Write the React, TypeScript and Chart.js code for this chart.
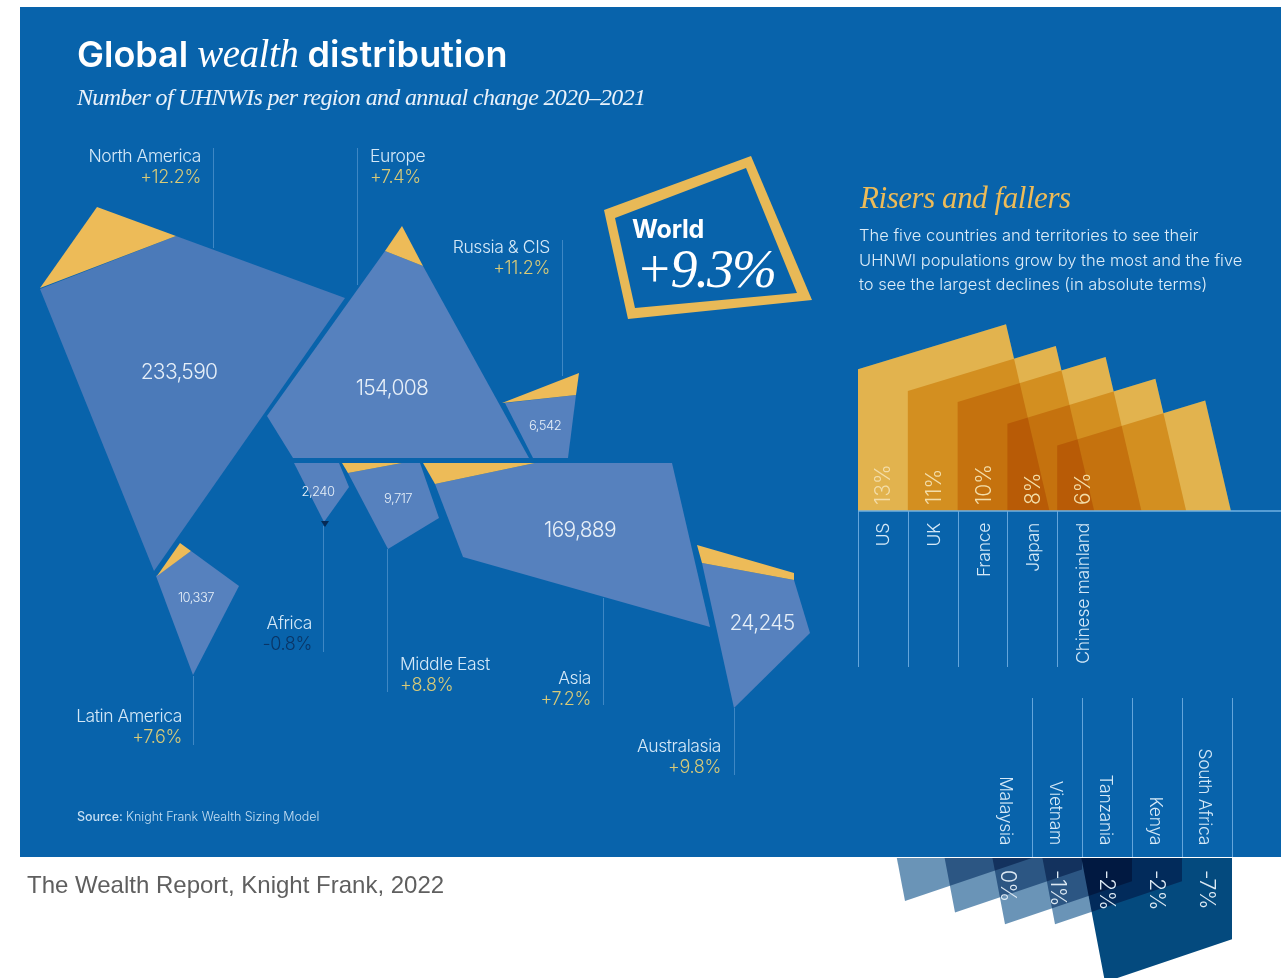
import React, { useEffect, useRef } from "react";
import { Chart, registerables } from "chart.js";

// ---- Data -----------------------------------------------------------------
const regionNames = ["North America", "Europe", "Russia & CIS", "Latin America", "Africa", "Middle East", "Asia", "Australasia"];
const regionChanges = ["+12.2%", "+7.4%", "+11.2%", "+7.6%", "-0.8%", "+8.8%", "+7.2%", "+9.8%"];
const regionCounts = [233590, 154008, 6542, 10337, 2240, 9717, 169889, 24245];

const riserNames = ["US", "UK", "France", "Japan", "Chinese mainland"];
const riserValues = [13, 11, 10, 8, 6];
const fallerNames = ["Malaysia", "Vietnam", "Tanzania", "Kenya", "South Africa"];
const fallerValues = [0, -1, -2, -2, -7];
const worldChange = "+9.3%";

type Pt = [number, number];

// Region outlines in map units: the growth wedge and the body of each region
const northAmericaGain: Pt[] = [[40, 288], [97, 207], [176, 236]];
const northAmericaBody: Pt[] = [[40, 289], [176, 236], [345, 298], [154, 571]];
const europeGain: Pt[] = [[402, 226], [385, 251], [423, 266]];
const europeBody: Pt[] = [[385, 251], [423, 266], [529, 458], [293, 458], [267, 416]];
const russiaGain: Pt[] = [[502, 403], [579, 373], [576, 395]];
const russiaBody: Pt[] = [[505, 403], [576, 395], [568, 458], [533, 458]];
const latinAmericaGain: Pt[] = [[180, 543], [191, 551], [157, 576]];
const latinAmericaBody: Pt[] = [[156, 576], [191, 551], [239, 586], [193, 675]];
const africaBody: Pt[] = [[294, 463], [339, 463], [349, 487], [324, 522]];
const africaLoss: Pt[] = [[321, 521], [329, 521], [325, 527]];
const middleEastGain: Pt[] = [[342, 463], [402, 463], [348, 473]];
const middleEastBody: Pt[] = [[348, 473], [402, 463], [420, 463], [439, 518], [388, 549]];
const asiaGain: Pt[] = [[423, 463], [535, 463], [435, 484]];
const asiaBody: Pt[] = [[435, 484], [535, 463], [672, 463], [710, 627], [463, 557]];
const australasiaGain: Pt[] = [[697, 545], [794, 573], [794, 580], [702, 563]];
const australasiaBody: Pt[] = [[702, 563], [794, 580], [810, 633], [734, 708]];
const worldFrameOuter: Pt[] = [[604, 210], [751, 156], [812, 300], [628, 319]];
const worldFrameInner: Pt[] = [[615, 218], [746, 168], [797, 293], [635, 308]];

// Leader lines between region shapes and their captions: x, top, bottom
const leaders: [number, number, number][] = [
  [213.5, 148, 248], [357.5, 148, 285], [562.5, 240, 376], [193.5, 676, 745],
  [323.5, 526, 652], [387.5, 549, 692], [603.5, 598, 705], [734.5, 708, 775],
];

// ---- Layout ---------------------------------------------------------------
const WIDTH = 1281;
const HEIGHT = 978;
const PANEL = "#0863AB";
const PANEL_LEFT = 20;
const PANEL_TOP = 7;
const PANEL_BOTTOM = 857;

const RISER_BASE = 511;
const RISER_PX = 10.9; // pixels per percentage point
const RISER_LEFT = 858;
const RISER_STEP = 49.8;
const RISER_WIDTH = 148;
const RISER_LIFT = 45;
const RISER_LEAN = 0.233;

const FALLER_BASE = 858;
const FALLER_PX = 11.6;
const FALLER_RIGHT = 1032;
const FALLER_STEP = 50;
const FALLER_WIDTH = 127;
const FALLER_DROP = 43;
const FALLER_LEAN = 0.19;

const BODY_FONT = "Inter, 'Liberation Sans', sans-serif";
const SERIF_FONT = "'Liberation Serif', serif";
const NAME_COLOR = "#D4E8F7";
const GAIN_COLOR = "#D8CA78";

const closed = (pts: Pt[]) => [...pts, pts[0]].map(([x, y]) => ({ x, y }));

const shape = (pts: Pt[], color: string, blend = "source-over", yAxisID = "y") => ({
  data: closed(pts),
  showLine: true,
  fill: "shape",
  backgroundColor: color,
  borderColor: "transparent",
  borderWidth: 0,
  pointRadius: 0,
  yAxisID,
  blend,
});

const rule = (x1: number, y1: number, x2: number, y2: number, color: string, width = 1) => ({
  data: [{ x: x1, y: y1 }, { x: x2, y: y2 }],
  showLine: true,
  fill: false,
  borderColor: color,
  borderWidth: width,
  pointRadius: 0,
  yAxisID: "y",
});

// A riser rises from the baseline; its left edge stands at the stated percentage
const riserOutline = (value: number, i: number): Pt[] => {
  const left = RISER_LEFT + i * RISER_STEP;
  const lift = RISER_LIFT / RISER_PX;
  const right = left + RISER_WIDTH;
  const foot = right + (value + lift) * RISER_PX * RISER_LEAN;
  return [[left, 0], [left, value], [right, value + lift], [foot, 0]];
};

// A faller hangs from the panel edge; its right edge drops to the stated percentage
const fallerOutline = (value: number, i: number): Pt[] => {
  const right = FALLER_RIGHT + i * FALLER_STEP;
  const drop = FALLER_DROP / FALLER_PX;
  const lowX = right - FALLER_WIDTH;
  const lowY = value - drop;
  const topX = lowX + lowY * FALLER_PX * FALLER_LEAN;
  return [[topX, 0], [right, 0], [right, value], [lowX, lowY]];
};

const paintOrder = () => {
  const list: any[] = [
    shape([[PANEL_LEFT, PANEL_TOP], [WIDTH, PANEL_TOP], [WIDTH, PANEL_BOTTOM], [PANEL_LEFT, PANEL_BOTTOM]], PANEL),
  ];
  leaders.forEach(([x, a, b]) => list.push(rule(x, a, x, b, "rgba(120,175,225,0.2)")));

  list.push(shape(northAmericaBody, "#4B7AB9"), shape(northAmericaGain, "#EDBB58"));
  [europeBody, russiaBody, latinAmericaBody, africaBody, middleEastBody, asiaBody, australasiaBody].forEach((p) =>
    list.push(shape(p, "#5681BE")),
  );
  [europeGain, russiaGain, latinAmericaGain, middleEastGain, asiaGain, australasiaGain].forEach((p) =>
    list.push(shape(p, "#EDBB58")),
  );
  list.push(shape(africaLoss, "#062A55"));
  list.push(shape(worldFrameOuter, "#E8B957"), shape(worldFrameInner, PANEL));

  // Opaque underlay, then multiplied layers so overlaps deepen
  riserValues.forEach((v, i) => list.push(shape(riserOutline(v, i), "rgb(243,224,190)", "source-over", "riser")));
  riserValues.forEach((v, i) => list.push(shape(riserOutline(v, i), "rgb(238,204,105)", "multiply", "riser")));
  fallerValues.forEach((v, i) =>
    list.push(shape(fallerOutline(v, i), i === 4 ? "rgb(4,74,126)" : "rgb(106,148,183)", "multiply", "faller")),
  );

  riserNames.forEach((_, i) => {
    const x = Math.round(RISER_LEFT + i * RISER_STEP) + 0.5;
    list.push(rule(x, RISER_BASE, x, 667, "rgba(125,180,230,0.42)"));
  });
  fallerNames.forEach((_, i) => {
    const x = FALLER_RIGHT + i * FALLER_STEP + 0.5;
    list.push(rule(x, 698, x, PANEL_BOTTOM, "rgba(125,180,230,0.42)"));
  });
  list.push(rule(RISER_LEFT, RISER_BASE, WIDTH, RISER_BASE, "#6FB0E2", 1.5));
  return list;
};

// ---- Text -----------------------------------------------------------------
type Label = {
  text: string; x: number; y: number; font: string; color: string;
  align?: CanvasTextAlign; rotate?: number; spacing?: string;
};

const fmt = (n: number) => n.toLocaleString("en-US");

const regionCaptions: { x: number; y: number; align: CanvasTextAlign }[] = [
  { x: 201, y: 162, align: "right" },
  { x: 370, y: 162, align: "left" },
  { x: 550, y: 253, align: "right" },
  { x: 182, y: 722, align: "right" },
  { x: 312, y: 629, align: "right" },
  { x: 400, y: 670, align: "left" },
  { x: 591, y: 684, align: "right" },
  { x: 721, y: 752, align: "right" },
];
const countSpots: { x: number; y: number; size: number }[] = [
  { x: 179, y: 379, size: 21 },
  { x: 392, y: 395, size: 21 },
  { x: 545, y: 430, size: 13 },
  { x: 196, y: 602, size: 13 },
  { x: 318, y: 496, size: 13 },
  { x: 398, y: 503, size: 13 },
  { x: 580, y: 537, size: 21 },
  { x: 762, y: 630, size: 21 },
];

const buildLabels = (): Label[] => {
  const labels: Label[] = [];
  const light = (size: number) => `300 ${size}px ${BODY_FONT}`;
  regionNames.forEach((name, i) => {
    const c = regionCaptions[i];
    labels.push({ text: name, x: c.x, y: c.y, font: light(17.5), color: NAME_COLOR, align: c.align, spacing: "-0.42px" });
    labels.push({
      text: regionChanges[i], x: c.x, y: c.y + 21, font: light(18),
      color: regionChanges[i].startsWith("-") ? "#0A3566" : GAIN_COLOR, align: c.align, spacing: "-0.35px",
    });
  });
  regionCounts.forEach((n, i) => {
    const s = countSpots[i];
    labels.push({ text: fmt(n), x: s.x, y: s.y, font: light(s.size), color: "#E6EFF8", align: "center", spacing: s.size > 15 ? "-0.7px" : "-0.5px" });
  });
  const xr = [884, 934.5, 984.5, 1033.5, 1083.5];
  riserNames.forEach((name, i) => {
    labels.push({ text: name, x: xr[i], y: 523, font: light(17.5), color: NAME_COLOR, align: "right", rotate: -90, spacing: "-0.3px" });
    labels.push({ text: `${riserValues[i]}%`, x: xr[i], y: 505, font: light(21), color: "#F3DDA8", align: "left", rotate: -90 });
  });
  const xf = [1005.5, 1055.5, 1105, 1155, 1204.5];
  fallerNames.forEach((name, i) => {
    labels.push({ text: name, x: xf[i], y: 845, font: light(17.5), color: NAME_COLOR, align: "right", rotate: 90, spacing: "-0.3px" });
    labels.push({ text: `${fallerValues[i]}%`, x: xf[i] + 1.5, y: 870, font: light(21), color: "#DDE9F3", align: "left", rotate: 90, spacing: "-0.5px" });
  });

  labels.push(
    { text: "Number of UHNWIs per region and annual change 2020–2021", x: 77, y: 105, font: `italic 24px ${SERIF_FONT}`, color: "#EAF2FA", spacing: "-0.68px" },
    { text: "World", x: 632, y: 238, font: `700 25px ${BODY_FONT}`, color: "#FFFFFF", spacing: "-0.2px" },
    { text: worldChange, x: 636, y: 287, font: `italic 54px ${SERIF_FONT}`, color: "#FFFFFF", spacing: "-2px" },
    { text: "Risers and fallers", x: 860, y: 208, font: `italic 31px ${SERIF_FONT}`, color: "#EDBB58", spacing: "-0.45px" },
    { text: "The five countries and territories to see their", x: 859, y: 241, font: light(16.5), color: "#DCECF8", spacing: "0px" },
    { text: "UHNWI populations grow by the most and the five", x: 859, y: 265.5, font: light(16.5), color: "#DCECF8", spacing: "0px" },
    { text: "to see the largest declines (in absolute terms)", x: 859, y: 290, font: light(16.5), color: "#DCECF8", spacing: "0px" },
    { text: "The Wealth Report, Knight Frank, 2022", x: 27, y: 893, font: "24px 'Liberation Sans', sans-serif", color: "#5F5F5F", spacing: "0px" },
  );
  return labels;
};

// Draws a run of differently styled words on one baseline
const drawRun = (ctx: CanvasRenderingContext2D, parts: [string, string, string][], x: number, y: number, color: string) => {
  let cursor = x;
  parts.forEach(([text, font, spacing]) => {
    ctx.font = font;
    (ctx as any).letterSpacing = spacing;
    ctx.fillStyle = color;
    ctx.textAlign = "left";
    ctx.fillText(text, cursor, y);
    cursor += ctx.measureText(text).width;
  });
};

// Runs before Filler so that each dataset's fill picks up its composite mode
const blendPlugin = {
  id: "datasetBlend",
  beforeDraw(chart: any) {
    const { ctx, width, height } = chart;
    ctx.save();
    ctx.fillStyle = "#FFFFFF";
    ctx.fillRect(0, 0, width, height);
    ctx.restore();
  },
  beforeDatasetDraw(chart: any, args: any) {
    const ds = chart.data.datasets[args.index];
    chart.ctx.globalCompositeOperation = ds.blend || "source-over";
  },
  afterDatasetDraw(chart: any) {
    chart.ctx.globalCompositeOperation = "source-over";
  },
};

const textPlugin = {
  id: "chartText",
  afterDatasetsDraw(chart: any) {
    const { ctx, scales } = chart;
    const px = (v: number) => scales.x.getPixelForValue(v);
    const py = (v: number) => scales.y.getPixelForValue(v);
    ctx.save();
    ctx.textBaseline = "alphabetic";
    buildLabels().forEach((l) => {
      ctx.save();
      ctx.font = l.font;
      ctx.fillStyle = l.color;
      ctx.textAlign = l.align || "left";
      (ctx as any).letterSpacing = l.spacing || "0px";
      ctx.translate(px(l.x), py(l.y));
      if (l.rotate) {
        ctx.rotate((l.rotate * Math.PI) / 180);
        ctx.textBaseline = "middle";
      }
      ctx.fillText(l.text, 0, 0);
      ctx.restore();
    });
    drawRun(
      ctx,
      [
        ["Global ", `600 36px ${BODY_FONT}`, "0px"],
        ["wealth ", `italic 39px ${SERIF_FONT}`, "-0.5px"],
        ["distribution", `600 36px ${BODY_FONT}`, "0.1px"],
      ],
      px(77), py(67), "#FFFFFF",
    );
    drawRun(
      ctx,
      [
        ["Source: ", `500 12.5px ${BODY_FONT}`, "-0.05px"],
        ["Knight Frank Wealth Sizing Model", `300 12.5px ${BODY_FONT}`, "-0.05px"],
      ],
      px(77), py(821), "#C6DFF3",
    );
    ctx.restore();
  },
};

// Filler has to come after the blend hook, hence this registration order
Chart.register(blendPlugin as any);
Chart.register(...registerables);

export default function App() {
  const ref = useRef<HTMLCanvasElement>(null);

  useEffect(() => {
    document.body.style.margin = "0";
    document.body.style.background = "#FFFFFF";
    const chart = new Chart(ref.current as HTMLCanvasElement, {
      type: "scatter",
      // Chart.js paints the first dataset last, so reverse the painter's order
      data: { datasets: paintOrder().reverse() },
      options: {
        animation: false,
        responsive: false,
        devicePixelRatio: 1,
        events: [],
        layout: { padding: 0 },
        plugins: { legend: { display: false }, tooltip: { enabled: false } },
        scales: {
          x: { type: "linear", display: false, min: 0, max: WIDTH },
          y: { type: "linear", display: false, reverse: true, min: 0, max: HEIGHT },
          riser: {
            type: "linear", axis: "y", display: false,
            min: -(HEIGHT - RISER_BASE) / RISER_PX, max: RISER_BASE / RISER_PX,
          },
          faller: {
            type: "linear", axis: "y", display: false,
            min: -(HEIGHT - FALLER_BASE) / FALLER_PX, max: FALLER_BASE / FALLER_PX,
          },
        },
      },
      plugins: [textPlugin],
    } as any);
    return () => chart.destroy();
  }, []);

  return (
    <div style={{ position: "absolute", left: 0, top: 0, width: WIDTH, height: HEIGHT }}>
      <canvas ref={ref} width={WIDTH} height={HEIGHT} style={{ display: "block" }} />
    </div>
  );
}
